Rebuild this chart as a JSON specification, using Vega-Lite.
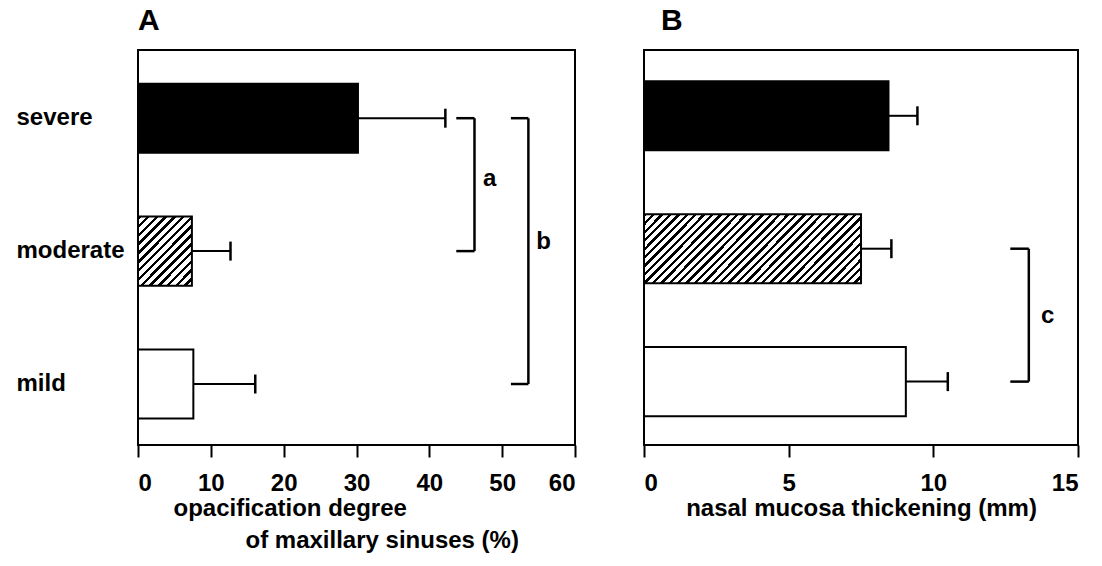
{
  "$schema": "https://vega.github.io/schema/vega-lite/v6.json",
  "background": "white",
  "padding": {"left": 15, "top": 5, "right": 10, "bottom": 5},
  "spacing": 69,
  "bounds": "flush",
  "config": {
    "font": "Liberation Sans",
    "view": {"stroke": "black", "strokeWidth": 2},
    "axis": {
      "labelFont": "Liberation Sans", "labelFontWeight": "bold", "labelFontSize": 24, "labelColor": "black",
      "titleFont": "Liberation Sans", "titleFontWeight": "bold", "titleFontSize": 24, "titleColor": "black",
      "grid": false, "domain": false, "tickColor": "black", "tickWidth": 2
    },
    "title": {"font": "Liberation Sans", "fontSize": 30, "fontWeight": "bold", "color": "black", "anchor": "start", "frame": "group", "offset": 14}
  },
  "datasets": {
    "bars": [
      {"panel": "A", "severity": "severe", "mean": 30.2, "upper": 42.2},
      {"panel": "A", "severity": "moderate", "mean": 7.4, "upper": 12.7},
      {"panel": "A", "severity": "mild", "mean": 7.6, "upper": 16.1},
      {"panel": "B", "severity": "severe", "mean": 8.45, "upper": 9.45},
      {"panel": "B", "severity": "moderate", "mean": 7.5, "upper": 8.55},
      {"panel": "B", "severity": "mild", "mean": 9.05, "upper": 10.5}
    ],
    "brackets": [
      {"panel": "A", "label": "a", "from": "severe", "to": "moderate", "x0": 43.7, "x1": 46.2, "xl": 48.3},
      {"panel": "A", "label": "b", "from": "severe", "to": "mild", "x0": 51.2, "x1": 53.6, "xl": 55.7},
      {"panel": "B", "label": "c", "from": "moderate", "to": "mild", "x0": 12.66, "x1": 13.3, "xl": 13.95}
    ]
  },
  "hconcat": [
    {
      "width": 437,
      "height": 395,
      "title": {"text": "A"},
      "layer": [
        {
          "data": {"name": "bars"},
          "transform": [{"filter": "datum.panel === 'A'"}],
          "mark": {"type": "bar", "stroke": "black", "strokeWidth": 2},
          "encoding": {
            "y": {"field": "severity", "type": "nominal",
              "scale": {"domain": ["severe", "moderate", "mild"], "paddingInner": 0.48, "paddingOuter": 0.226, "align": 0.56},
              "axis": {"title": null, "labelAlign": "left", "labelPadding": 122, "ticks": false, "tickSize": 0, "labelFontSize": 24}},
            "x": {"field": "mean", "type": "quantitative", "scale": {"domain": [0, 60], "nice": false},
              "axis": {"values": [0, 10, 20, 30, 40, 50, 60], "tickSize": 12, "labelPadding": 14,
                "title": ["opacification degree", "\u2800\u2800\u2800\u2800of maxillary sinuses (%)"],
                "titleAlign": "left", "titleAnchor": "start", "titleX": 35, "titlePadding": 1, "titleLineHeight": 32}},
            "fill": {
              "condition": [
                {"test": "datum.severity === 'severe'", "value": "black"},
                {"test": "datum.severity === 'moderate'", "value": {"gradient": "linear", "x1": 0, "y1": 0, "x2": 0.868, "y2": 1.104, "stops": [
                  {"offset":0,"color":"#000"},{"offset":0.0286,"color":"#000"},{"offset":0.0286,"color":"#fff"},{"offset":0.0714,"color":"#fff"},
                  {"offset":0.0714,"color":"#000"},{"offset":0.1,"color":"#000"},{"offset":0.1,"color":"#fff"},{"offset":0.1429,"color":"#fff"},
                  {"offset":0.1429,"color":"#000"},{"offset":0.1714,"color":"#000"},{"offset":0.1714,"color":"#fff"},{"offset":0.2143,"color":"#fff"},
                  {"offset":0.2143,"color":"#000"},{"offset":0.2429,"color":"#000"},{"offset":0.2429,"color":"#fff"},{"offset":0.2857,"color":"#fff"},
                  {"offset":0.2857,"color":"#000"},{"offset":0.3143,"color":"#000"},{"offset":0.3143,"color":"#fff"},{"offset":0.3571,"color":"#fff"},
                  {"offset":0.3571,"color":"#000"},{"offset":0.3857,"color":"#000"},{"offset":0.3857,"color":"#fff"},{"offset":0.4286,"color":"#fff"},
                  {"offset":0.4286,"color":"#000"},{"offset":0.4571,"color":"#000"},{"offset":0.4571,"color":"#fff"},{"offset":0.5,"color":"#fff"},
                  {"offset":0.5,"color":"#000"},{"offset":0.5286,"color":"#000"},{"offset":0.5286,"color":"#fff"},{"offset":0.5714,"color":"#fff"},
                  {"offset":0.5714,"color":"#000"},{"offset":0.6,"color":"#000"},{"offset":0.6,"color":"#fff"},{"offset":0.6429,"color":"#fff"},
                  {"offset":0.6429,"color":"#000"},{"offset":0.6714,"color":"#000"},{"offset":0.6714,"color":"#fff"},{"offset":0.7143,"color":"#fff"},
                  {"offset":0.7143,"color":"#000"},{"offset":0.7429,"color":"#000"},{"offset":0.7429,"color":"#fff"},{"offset":0.7857,"color":"#fff"},
                  {"offset":0.7857,"color":"#000"},{"offset":0.8143,"color":"#000"},{"offset":0.8143,"color":"#fff"},{"offset":0.8571,"color":"#fff"},
                  {"offset":0.8571,"color":"#000"},{"offset":0.8857,"color":"#000"},{"offset":0.8857,"color":"#fff"},{"offset":0.9286,"color":"#fff"},
                  {"offset":0.9286,"color":"#000"},{"offset":0.9571,"color":"#000"},{"offset":0.9571,"color":"#fff"},{"offset":1,"color":"#fff"}
                ]}}
              ],
              "value": "white"
            }
          }
        },
        {
          "data": {"name": "bars"},
          "transform": [{"filter": "datum.panel === 'A'"}],
          "mark": {"type": "rule", "color": "black", "strokeWidth": 2},
          "encoding": {
            "y": {"field": "severity", "type": "nominal"},
            "x": {"field": "mean", "type": "quantitative"},
            "x2": {"field": "upper"}
          }
        },
        {
          "data": {"name": "bars"},
          "transform": [{"filter": "datum.panel === 'A'"}],
          "mark": {"type": "tick", "color": "black", "orient": "vertical", "size": 19, "thickness": 2.5, "opacity": 1},
          "encoding": {
            "y": {"field": "severity", "type": "nominal"},
            "x": {"field": "upper", "type": "quantitative"}
          }
        },
        {
          "data": {"name": "brackets"},
          "transform": [{"filter": "datum.panel === 'A'"}],
          "mark": {"type": "rule", "color": "black", "strokeWidth": 2.5},
          "encoding": {
            "y": {"field": "from", "type": "nominal"},
            "y2": {"field": "to"},
            "x": {"field": "x1", "type": "quantitative"}
          }
        },
        {
          "data": {"name": "brackets"},
          "transform": [{"filter": "datum.panel === 'A'"}],
          "mark": {"type": "rule", "color": "black", "strokeWidth": 2.5},
          "encoding": {
            "y": {"field": "from", "type": "nominal"},
            "x": {"field": "x0", "type": "quantitative"},
            "x2": {"field": "x1"}
          }
        },
        {
          "data": {"name": "brackets"},
          "transform": [{"filter": "datum.panel === 'A'"}],
          "mark": {"type": "rule", "color": "black", "strokeWidth": 2.5},
          "encoding": {
            "y": {"field": "to", "type": "nominal"},
            "x": {"field": "x0", "type": "quantitative"},
            "x2": {"field": "x1"}
          }
        },
        {
          "data": {"name": "brackets"},
          "transform": [{"filter": "datum.label === 'a'"}],
          "mark": {"type": "text", "font": "Liberation Sans", "fontSize": 24, "fontWeight": "bold", "color": "black", "align": "center", "baseline": "middle", "dy": -72},
          "encoding": {
            "y": {"field": "to", "type": "nominal"},
            "x": {"field": "xl", "type": "quantitative"},
            "text": {"field": "label"}
          }
        },
        {
          "data": {"name": "brackets"},
          "transform": [{"filter": "datum.label === 'b'"}],
          "mark": {"type": "text", "font": "Liberation Sans", "fontSize": 24, "fontWeight": "bold", "color": "black", "align": "center", "baseline": "middle", "dy": -142},
          "encoding": {
            "y": {"field": "to", "type": "nominal"},
            "x": {"field": "xl", "type": "quantitative"},
            "text": {"field": "label"}
          }
        }
      ]
    },
    {
      "width": 434,
      "height": 395,
      "title": {"text": "B", "dx": 17},
      "layer": [
        {
          "data": {"name": "bars"},
          "transform": [{"filter": "datum.panel === 'B'"}],
          "mark": {"type": "bar", "stroke": "black", "strokeWidth": 2},
          "encoding": {
            "y": {"field": "severity", "type": "nominal",
              "scale": {"domain": ["severe", "moderate", "mild"], "paddingInner": 0.48, "paddingOuter": 0.226, "align": 0.52},
              "axis": null},
            "x": {"field": "mean", "type": "quantitative", "scale": {"domain": [0, 15], "nice": false},
              "axis": {"values": [0, 5, 10, 15], "tickSize": 12, "labelPadding": 14,
                "title": "nasal mucosa thickening (mm)", "titlePadding": 1}},
            "fill": {
              "condition": [
                {"test": "datum.severity === 'severe'", "value": "black"},
                {"test": "datum.severity === 'moderate'", "value": {"gradient": "linear", "x1": 0, "y1": 0, "x2": 1.197, "y2": 0.378, "stops": [
                  {"offset":0,"color":"#000"},{"offset":0.0118,"color":"#000"},{"offset":0.0118,"color":"#fff"},{"offset":0.0294,"color":"#fff"},
                  {"offset":0.0294,"color":"#000"},{"offset":0.0412,"color":"#000"},{"offset":0.0412,"color":"#fff"},{"offset":0.0588,"color":"#fff"},
                  {"offset":0.0588,"color":"#000"},{"offset":0.0706,"color":"#000"},{"offset":0.0706,"color":"#fff"},{"offset":0.0882,"color":"#fff"},
                  {"offset":0.0882,"color":"#000"},{"offset":0.1,"color":"#000"},{"offset":0.1,"color":"#fff"},{"offset":0.1176,"color":"#fff"},
                  {"offset":0.1176,"color":"#000"},{"offset":0.1294,"color":"#000"},{"offset":0.1294,"color":"#fff"},{"offset":0.1471,"color":"#fff"},
                  {"offset":0.1471,"color":"#000"},{"offset":0.1588,"color":"#000"},{"offset":0.1588,"color":"#fff"},{"offset":0.1765,"color":"#fff"},
                  {"offset":0.1765,"color":"#000"},{"offset":0.1882,"color":"#000"},{"offset":0.1882,"color":"#fff"},{"offset":0.2059,"color":"#fff"},
                  {"offset":0.2059,"color":"#000"},{"offset":0.2176,"color":"#000"},{"offset":0.2176,"color":"#fff"},{"offset":0.2353,"color":"#fff"},
                  {"offset":0.2353,"color":"#000"},{"offset":0.2471,"color":"#000"},{"offset":0.2471,"color":"#fff"},{"offset":0.2647,"color":"#fff"},
                  {"offset":0.2647,"color":"#000"},{"offset":0.2765,"color":"#000"},{"offset":0.2765,"color":"#fff"},{"offset":0.2941,"color":"#fff"},
                  {"offset":0.2941,"color":"#000"},{"offset":0.3059,"color":"#000"},{"offset":0.3059,"color":"#fff"},{"offset":0.3235,"color":"#fff"},
                  {"offset":0.3235,"color":"#000"},{"offset":0.3353,"color":"#000"},{"offset":0.3353,"color":"#fff"},{"offset":0.3529,"color":"#fff"},
                  {"offset":0.3529,"color":"#000"},{"offset":0.3647,"color":"#000"},{"offset":0.3647,"color":"#fff"},{"offset":0.3824,"color":"#fff"},
                  {"offset":0.3824,"color":"#000"},{"offset":0.3941,"color":"#000"},{"offset":0.3941,"color":"#fff"},{"offset":0.4118,"color":"#fff"},
                  {"offset":0.4118,"color":"#000"},{"offset":0.4235,"color":"#000"},{"offset":0.4235,"color":"#fff"},{"offset":0.4412,"color":"#fff"},
                  {"offset":0.4412,"color":"#000"},{"offset":0.4529,"color":"#000"},{"offset":0.4529,"color":"#fff"},{"offset":0.4706,"color":"#fff"},
                  {"offset":0.4706,"color":"#000"},{"offset":0.4824,"color":"#000"},{"offset":0.4824,"color":"#fff"},{"offset":0.5,"color":"#fff"},
                  {"offset":0.5,"color":"#000"},{"offset":0.5118,"color":"#000"},{"offset":0.5118,"color":"#fff"},{"offset":0.5294,"color":"#fff"},
                  {"offset":0.5294,"color":"#000"},{"offset":0.5412,"color":"#000"},{"offset":0.5412,"color":"#fff"},{"offset":0.5588,"color":"#fff"},
                  {"offset":0.5588,"color":"#000"},{"offset":0.5706,"color":"#000"},{"offset":0.5706,"color":"#fff"},{"offset":0.5882,"color":"#fff"},
                  {"offset":0.5882,"color":"#000"},{"offset":0.6,"color":"#000"},{"offset":0.6,"color":"#fff"},{"offset":0.6176,"color":"#fff"},
                  {"offset":0.6176,"color":"#000"},{"offset":0.6294,"color":"#000"},{"offset":0.6294,"color":"#fff"},{"offset":0.6471,"color":"#fff"},
                  {"offset":0.6471,"color":"#000"},{"offset":0.6588,"color":"#000"},{"offset":0.6588,"color":"#fff"},{"offset":0.6765,"color":"#fff"},
                  {"offset":0.6765,"color":"#000"},{"offset":0.6882,"color":"#000"},{"offset":0.6882,"color":"#fff"},{"offset":0.7059,"color":"#fff"},
                  {"offset":0.7059,"color":"#000"},{"offset":0.7176,"color":"#000"},{"offset":0.7176,"color":"#fff"},{"offset":0.7353,"color":"#fff"},
                  {"offset":0.7353,"color":"#000"},{"offset":0.7471,"color":"#000"},{"offset":0.7471,"color":"#fff"},{"offset":0.7647,"color":"#fff"},
                  {"offset":0.7647,"color":"#000"},{"offset":0.7765,"color":"#000"},{"offset":0.7765,"color":"#fff"},{"offset":0.7941,"color":"#fff"},
                  {"offset":0.7941,"color":"#000"},{"offset":0.8059,"color":"#000"},{"offset":0.8059,"color":"#fff"},{"offset":0.8235,"color":"#fff"},
                  {"offset":0.8235,"color":"#000"},{"offset":0.8353,"color":"#000"},{"offset":0.8353,"color":"#fff"},{"offset":0.8529,"color":"#fff"},
                  {"offset":0.8529,"color":"#000"},{"offset":0.8647,"color":"#000"},{"offset":0.8647,"color":"#fff"},{"offset":0.8824,"color":"#fff"},
                  {"offset":0.8824,"color":"#000"},{"offset":0.8941,"color":"#000"},{"offset":0.8941,"color":"#fff"},{"offset":0.9118,"color":"#fff"},
                  {"offset":0.9118,"color":"#000"},{"offset":0.9235,"color":"#000"},{"offset":0.9235,"color":"#fff"},{"offset":0.9412,"color":"#fff"},
                  {"offset":0.9412,"color":"#000"},{"offset":0.9529,"color":"#000"},{"offset":0.9529,"color":"#fff"},{"offset":0.9706,"color":"#fff"},
                  {"offset":0.9706,"color":"#000"},{"offset":0.9824,"color":"#000"},{"offset":0.9824,"color":"#fff"},{"offset":1,"color":"#fff"}
                ]}}
              ],
              "value": "white"
            }
          }
        },
        {
          "data": {"name": "bars"},
          "transform": [{"filter": "datum.panel === 'B'"}],
          "mark": {"type": "rule", "color": "black", "strokeWidth": 2},
          "encoding": {
            "y": {"field": "severity", "type": "nominal"},
            "x": {"field": "mean", "type": "quantitative"},
            "x2": {"field": "upper"}
          }
        },
        {
          "data": {"name": "bars"},
          "transform": [{"filter": "datum.panel === 'B'"}],
          "mark": {"type": "tick", "color": "black", "orient": "vertical", "size": 19, "thickness": 2.5, "opacity": 1},
          "encoding": {
            "y": {"field": "severity", "type": "nominal"},
            "x": {"field": "upper", "type": "quantitative"}
          }
        },
        {
          "data": {"name": "brackets"},
          "transform": [{"filter": "datum.panel === 'B'"}],
          "mark": {"type": "rule", "color": "black", "strokeWidth": 2.5},
          "encoding": {
            "y": {"field": "from", "type": "nominal"},
            "y2": {"field": "to"},
            "x": {"field": "x1", "type": "quantitative"}
          }
        },
        {
          "data": {"name": "brackets"},
          "transform": [{"filter": "datum.panel === 'B'"}],
          "mark": {"type": "rule", "color": "black", "strokeWidth": 2.5},
          "encoding": {
            "y": {"field": "from", "type": "nominal"},
            "x": {"field": "x0", "type": "quantitative"},
            "x2": {"field": "x1"}
          }
        },
        {
          "data": {"name": "brackets"},
          "transform": [{"filter": "datum.panel === 'B'"}],
          "mark": {"type": "rule", "color": "black", "strokeWidth": 2.5},
          "encoding": {
            "y": {"field": "to", "type": "nominal"},
            "x": {"field": "x0", "type": "quantitative"},
            "x2": {"field": "x1"}
          }
        },
        {
          "data": {"name": "brackets"},
          "transform": [{"filter": "datum.label === 'c'"}],
          "mark": {"type": "text", "font": "Liberation Sans", "fontSize": 24, "fontWeight": "bold", "color": "black", "align": "center", "baseline": "middle", "dy": -66},
          "encoding": {
            "y": {"field": "to", "type": "nominal"},
            "x": {"field": "xl", "type": "quantitative"},
            "text": {"field": "label"}
          }
        }
      ]
    }
  ]
}
